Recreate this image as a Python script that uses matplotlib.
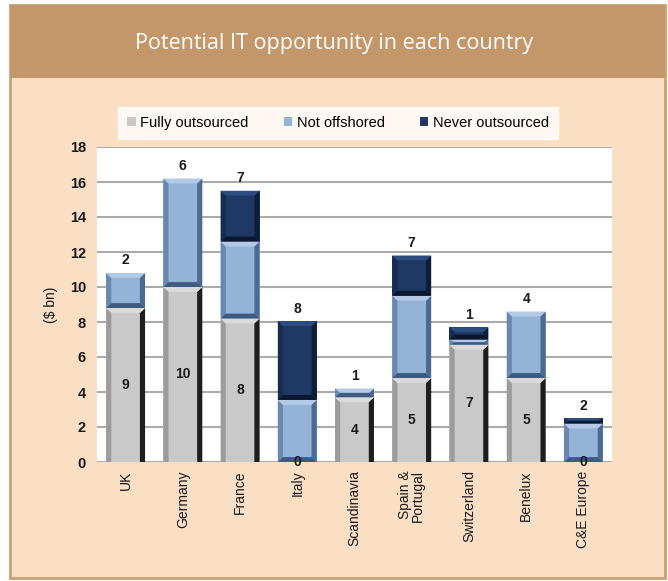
import matplotlib
matplotlib.use("Agg")
import matplotlib.pyplot as plt
from matplotlib.patches import Rectangle, Polygon
import numpy as np

categories = ["UK", "Germany", "France", "Italy", "Scandinavia", "Spain &\nPortugal",
              "Switzerland", "Benelux", "C&E Europe"]
fully_outsourced = [8.8, 10.0, 8.2, 0.0, 3.7, 4.8, 6.7, 4.8, 0.0]
not_offshored = [2.0, 6.2, 4.4, 3.55, 0.5, 4.7, 0.3, 3.8, 2.2]
never_outsourced = [0.0, 0.0, 2.9, 4.5, 0.0, 2.3, 0.7, 0.0, 0.3]
inner_labels = ["9", "10", "8", "0", "4", "5", "7", "5", "0"]
top_labels = ["2", "6", "7", "8", "1", "7", "1", "4", "2"]
series_names = ["Fully outsourced", "Not offshored", "Never outsourced"]
yticks = list(range(0, 19, 2))

W, H = 668, 581
fig = plt.figure(figsize=(W / 100, H / 100), dpi=100)
fig.patch.set_facecolor("white")

# outer frame and banner
fig.patches.append(Rectangle((10 / W, 3 / H), 655 / W, 573 / H, transform=fig.transFigure,
                             facecolor="#FADFC4", edgecolor="#C9A070", linewidth=2, zorder=-3))
fig.patches.append(Rectangle((10 / W, 1 - 78 / H), 655 / W, 73 / H, transform=fig.transFigure,
                             facecolor="#C4976A", edgecolor="none", zorder=-2))
fig.text(0.5, 1 - 44 / H, "Potential IT opportunity in each country", ha="center", va="center",
         color="white", fontsize=15.5,
         family=["Liberation Sans Narrow", "Open Sans", "DejaVu Sans"])

ax = fig.add_axes([97 / W, 1 - 462 / H, 515 / W, 315 / H])
ax.set_facecolor("white")

palettes = [
    dict(face="#C9C9C9", top="#DADADA", left="#9C9C9C", right="#1E1E1E", bottom=None),
    dict(face="#95B3D7", top="#B2CAE7", left="#6A87AE", right="#4B6A92", bottom="#3F5A80"),
    dict(face="#1F3864", top="#2D4D80", left="#172C50", right="#0E1E38", bottom="#0B1830"),
]

x = np.arange(len(categories))
width = 0.68
bottoms = np.zeros(len(categories))
series = [fully_outsourced, not_offshored, never_outsourced]
dx = 0.09
dy_max = 0.28
for s, (vals, pal) in enumerate(zip(series, palettes)):
    vals = np.array(vals)
    bars = ax.bar(x, vals, width, bottom=bottoms, color=pal["face"], edgecolor="none",
                  zorder=3, label=series_names[s])
    for rect in bars:
        h = rect.get_height()
        if h <= 0:
            continue
        x0 = rect.get_x(); x1 = x0 + rect.get_width()
        b = rect.get_y(); t = b + h
        dy = min(dy_max, h / 2.0)
        bdy = dy if pal["bottom"] else 0.0
        ddx = dx
        polys = [
            ([(x0, b), (x0 + ddx, b + bdy), (x0 + ddx, t - dy), (x0, t)], pal["left"]),
            ([(x1, b), (x1 - ddx, b + bdy), (x1 - ddx, t - dy), (x1, t)], pal["right"]),
            ([(x0, t), (x0 + ddx, t - dy), (x1 - ddx, t - dy), (x1, t)], pal["top"]),
        ]
        if pal["bottom"]:
            polys.append(([(x0, b), (x0 + ddx, b + dy), (x1 - ddx, b + dy), (x1, b)],
                          pal["bottom"]))
        for pts, col in polys:
            ax.add_patch(Polygon(pts, closed=True, facecolor=col, edgecolor="none", zorder=4))
    bottoms = bottoms + vals

totals = bottoms
for i in range(len(categories)):
    yc = fully_outsourced[i] / 2.0
    ax.text(x[i], yc, inner_labels[i], ha="center", va="center", fontsize=10,
            fontweight="bold", color="#1a1a1a", zorder=6, family="Liberation Sans")
    ax.annotate(top_labels[i], (x[i], totals[i]), xytext=(0, 4), textcoords="offset points",
                ha="center", va="bottom", fontsize=10, fontweight="bold", color="#1a1a1a",
                family="Liberation Sans", zorder=6)

ax.set_xlim(-0.5, len(categories) - 0.5)
ax.set_ylim(0, 18)
ax.set_yticks(yticks)
ax.set_yticklabels([str(v) for v in yticks], fontsize=10.5, family="Liberation Sans",
                   color="#1a1a1a", fontweight="bold")
ax.yaxis.grid(True, color="#ABABAB", linewidth=1.5, zorder=0)
ax.set_axisbelow(True)
ax.tick_params(axis="y", length=0, pad=8)
ax.tick_params(axis="x", length=0, pad=6)
ax.set_xticks(x)
ax.set_xticklabels(categories, rotation=90, fontsize=10, family="Liberation Sans",
                   color="#1a1a1a", multialignment="right", linespacing=0.9)
for sp in ax.spines.values():
    sp.set_visible(False)
ax.set_ylabel("($ bn)", fontsize=10, family="Liberation Sans", color="#1a1a1a")
ax.yaxis.set_label_coords(-0.076, 0.5)

leg = fig.legend(*ax.get_legend_handles_labels(), loc="center",
                 bbox_to_anchor=(338 / W, 1 - 123 / H), ncol=3, frameon=True,
                 fancybox=False, handlelength=0.6, handleheight=0.6,
                 handletextpad=0.3, columnspacing=2.4, borderpad=0.6,
                 prop={"family": "Liberation Sans", "size": 10.5})
leg.get_frame().set_facecolor("white")
leg.get_frame().set_edgecolor("white")

fig.savefig("out.png", dpi=100, facecolor=fig.get_facecolor())
